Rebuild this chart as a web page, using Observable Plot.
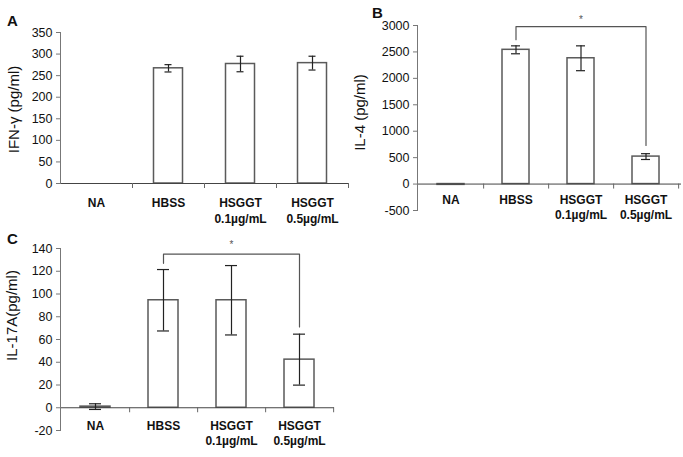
<!DOCTYPE html>
<html><head><meta charset="utf-8">
<script src="https://cdn.jsdelivr.net/npm/d3@7"></script>
<script src="https://cdn.jsdelivr.net/npm/@observablehq/plot@0.6"></script>
<style>
body{margin:0;background:#fff;}
#wrap{position:relative;width:683px;height:457px;font-family:"Liberation Sans",Arial,sans-serif;overflow:hidden;}
.panel{position:absolute;}
.letter{position:absolute;font-weight:bold;font-size:15px;line-height:1;color:#111;}
</style></head><body>
<div id="wrap"></div>
<script>
// ---- data ----
const categories = ["NA", "HBSS", "HSGGT 0.1µg/mL", "HSGGT 0.5µg/mL"];
const categoryLabels = ["NA", "HBSS", "HSGGT\n0.1µg/mL", "HSGGT\n0.5µg/mL"];

const ifnValues = [0, 267, 277, 279];
const ifnErrors = [0, 8.5, 18, 16];
const ifnTicks = [0, 50, 100, 150, 200, 250, 300, 350];

const il4Values = [-15, 2540, 2380, 520];
const il4Errors = [0, 75, 235, 55];
const il4Ticks = [-500, 0, 500, 1000, 1500, 2000, 2500, 3000];
const il4Bracket = [2730, 2980, 2980, 730]; // heights of bracket path (HBSS leg, top, top, 0.5 leg)

const il17Values = [1, 94.5, 94.5, 42.3];
const il17Errors = [2.5, 27, 30.5, 22.4];
const il17Ticks = [-20, 0, 20, 40, 60, 80, 100, 120, 140];
const il17Bracket = [127, 135, 135, 71];

const bracketCats = ["HBSS", "HBSS", "HSGGT 0.5µg/mL", "HSGGT 0.5µg/mL"];

function panel(o) {
  const data = categories.map((c, i) => ({cat: c, value: o.values[i], err: o.errors[i]}));
  const errData = data.filter(d => d.err > 0);
  const bw = (o.width - o.marginLeft - o.marginRight) / categories.length;
  const marks = [
    Plot.barY(data, {x: "cat", y: "value", fill: "white", stroke: "#5a5a5a", strokeWidth: 1.5,
      insetLeft: o.barInset, insetRight: o.barInset}),
    Plot.ruleY([0], {stroke: "#444", insetRight: o.axisExtend || 0}),
    Plot.ruleX(categories, {x: d => d, y1: () => 0, y2: () => 0, dx: bw / 2, insetBottom: -5, stroke: "#666"}),
    Plot.frame({anchor: "left", stroke: "#777"}),
    Plot.axisY({ticks: o.yTicks, tickSize: 4, tickPadding: 4, tickFormat: d => String(d), label: null,
      stroke: "#777", fontSize: 12.5}),
    Plot.ruleX(errData, {x: "cat", y1: d => d.value - d.err, y2: d => d.value + d.err, stroke: "#222", strokeWidth: 1.2}),
    Plot.tickY(errData, {x: "cat", y: d => d.value + d.err, insetLeft: o.capInset, insetRight: o.capInset, stroke: "#222", strokeWidth: 1.2}),
    Plot.tickY(errData, {x: "cat", y: d => d.value - d.err, insetLeft: o.capInset, insetRight: o.capInset, stroke: "#222", strokeWidth: 1.2}),
    Plot.text(categories, {x: d => d, y: () => 0, text: (d, i) => categoryLabels[i], lineAnchor: "top",
      dy: o.textDy, lineHeight: 1.28, fontWeight: "bold", fontSize: 12, fill: "#111"}),
    Plot.text([o.yLabel], {frameAnchor: "left", textAnchor: "middle", rotate: -90, text: d => d,
      dx: o.labelDx, dy: o.labelDy, fontSize: 15, fill: "#111"})
  ];
  if (o.bracket) {
    const pts = bracketCats.map((c, i) => ({x: c, y: o.bracket[i]}));
    marks.push(Plot.line(pts, {x: "x", y: "y", stroke: "#555", strokeWidth: 1.2}));
    marks.push(Plot.text(["*"], {x: () => "HSGGT 0.1µg/mL", y: () => o.bracket[1], text: d => d,
      dy: o.starDy, fontSize: 10, fill: "#555"}));
  }
  const svg = Plot.plot({
    width: o.width, height: o.height,
    marginLeft: o.marginLeft, marginRight: o.marginRight, marginTop: o.marginTop, marginBottom: o.marginBottom,
    x: {type: "band", domain: categories, padding: 0, axis: null},
    y: {domain: o.yDomain, axis: null},
    style: {fontFamily: "Liberation Sans, Arial, sans-serif", fontSize: "12px", color: "#111", background: "transparent", overflow: "visible"},
    marks
  });
  const div = document.createElement("div");
  div.className = "panel";
  div.style.left = o.left + "px";
  div.style.top = o.top + "px";
  div.appendChild(svg);
  document.getElementById("wrap").appendChild(div);
}

panel({left: 0, top: 0, width: 350, height: 230, marginLeft: 60, marginRight: 2, marginTop: 32, marginBottom: 47,
  values: ifnValues, errors: ifnErrors, yDomain: [0, 350], yTicks: ifnTicks, yLabel: "IFN-γ (pg/ml)",
  barInset: 21.5, capInset: 32.5, textDy: 13, labelDx: -46, labelDy: 1.5});

panel({left: 340, top: 0, width: 343, height: 230, marginLeft: 77, marginRight: 5, marginTop: 25, marginBottom: 20,
  values: il4Values, errors: il4Errors, yDomain: [-500, 3000], yTicks: il4Ticks, yLabel: "IL-4 (pg/ml)",
  barInset: 19, capInset: 28, textDy: 9, labelDx: -57, labelDy: -5.5, axisExtend: -3,
  bracket: il4Bracket, starDy: -7});

panel({left: 0, top: 225, width: 350, height: 232, marginLeft: 60, marginRight: 17, marginTop: 23, marginBottom: 27,
  values: il17Values, errors: il17Errors, yDomain: [-20, 140], yTicks: il17Ticks, yLabel: "IL-17A(pg/ml)",
  barInset: 19, capInset: 28, textDy: 11, labelDx: -48, labelDy: -24, axisExtend: -1,
  bracket: il17Bracket, starDy: -9});

const letters = [["A", 7, 13], ["B", 372, 5], ["C", 7, 231]];
for (const [t, x, y] of letters) {
  const el = document.createElement("div");
  el.className = "letter";
  el.textContent = t;
  el.style.left = x + "px";
  el.style.top = y + "px";
  document.getElementById("wrap").appendChild(el);
}
</script>
</body></html>
